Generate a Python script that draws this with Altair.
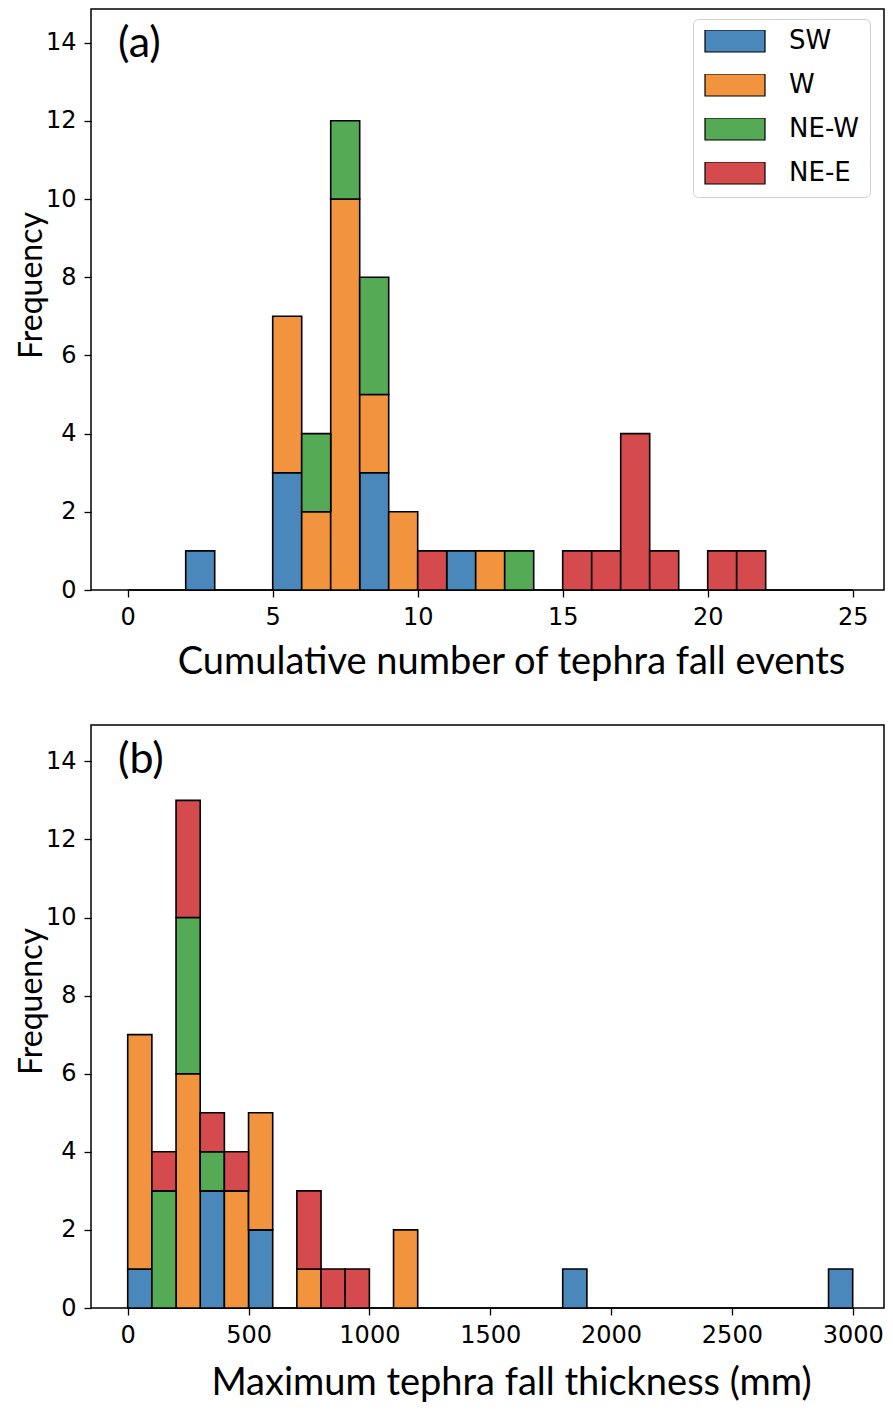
import altair as alt
import pandas as pd

CATS = ["SW", "W", "NE-W", "NE-E"]
COLORS = ["#4a88bb", "#f2933e", "#55aa55", "#d54b4d"]

# Panel (a): cumulative number of tephra fall events, bins of width 1
a_bin = [2, 5, 6, 7, 8, 9, 10, 11, 12, 13, 15, 16, 17, 18, 20, 21]
a_sw  = [1, 3, 0, 0, 3, 0, 0, 1, 0, 0, 0, 0, 0, 0, 0, 0]
a_w   = [0, 4, 2, 10, 2, 2, 0, 0, 1, 0, 0, 0, 0, 0, 0, 0]
a_new = [0, 0, 2, 2, 3, 0, 0, 0, 0, 1, 0, 0, 0, 0, 0, 0]
a_nee = [0, 0, 0, 0, 0, 0, 1, 0, 0, 0, 1, 1, 4, 1, 1, 1]
a_width = 1
a_range = [0, 25]
a_ticks = [0, 5, 10, 15, 20, 25]

# Panel (b): maximum tephra fall thickness (mm), bins of width 100
b_bin = [0, 100, 200, 300, 400, 500, 700, 800, 900, 1100, 1800, 2900]
b_sw  = [1, 0, 0, 3, 0, 2, 0, 0, 0, 0, 1, 1]
b_w   = [6, 0, 6, 0, 3, 3, 1, 0, 0, 2, 0, 0]
b_new = [0, 3, 4, 1, 0, 0, 0, 0, 0, 0, 0, 0]
b_nee = [0, 1, 3, 1, 1, 0, 2, 1, 1, 0, 0, 0]
b_width = 100
b_range = [0, 3000]
b_ticks = [0, 500, 1000, 1500, 2000, 2500, 3000]

y_ticks = [0, 2, 4, 6, 8, 10, 12, 14]


def long_df(bins, width, series):
    rows = []
    for i, (cat, vals) in enumerate(zip(CATS, series)):
        for b, v in zip(bins, vals):
            if v > 0:
                rows.append({"start": b, "end": b + width, "count": v,
                             "region": cat, "idx": i})
    return pd.DataFrame(rows)


df_a = long_df(a_bin, a_width, [a_sw, a_w, a_new, a_nee])
df_b = long_df(b_bin, b_width, [b_sw, b_w, b_new, b_nee])

PLOT_W = 793


def panel(df, rng, xdom, xticks, xtitle, label, height, ydom,
          ytitle_y, xtitle_y, legend):
    xs = alt.Scale(domain=xdom, nice=False, zero=False)
    ys = alt.Scale(domain=ydom, nice=False, zero=False)
    xax = alt.Axis(values=xticks, format="d", title=xtitle, titleX=420,
                   titleY=xtitle_y, titleBaseline="alphabetic",
                   titleFontSize=38)
    yax = alt.Axis(values=y_ticks, title="Frequency", titleX=-50,
                   titleY=ytitle_y, titleBaseline="alphabetic",
                   titleFontSize=32)
    base = alt.Chart(pd.DataFrame({"start": [rng[0]], "end": [rng[1]],
                                   "count": [0]})).mark_rule(
        color="black", strokeWidth=1.6).encode(
        x=alt.X("start:Q", scale=xs, axis=xax),
        x2="end:Q",
        y=alt.Y("count:Q", scale=ys, axis=yax))
    bars = alt.Chart(df).transform_stack(
        stack="count", groupby=["start"], as_=["y0", "y1"],
        sort=[alt.SortField("idx", order="ascending")]
    ).mark_bar(stroke="black", strokeWidth=1.6, opacity=1).encode(
        x=alt.X("start:Q", scale=xs, axis=xax),
        x2="end:Q",
        y=alt.Y("y0:Q", scale=ys, axis=yax),
        y2="y1:Q",
        color=alt.Color("region:N",
                        scale=alt.Scale(domain=CATS, range=COLORS),
                        legend=legend))
    txt = alt.Chart(pd.DataFrame({"t": [label]})).mark_text(
        font="Lato", fontSize=43, align="left", baseline="middle",
        color="black").encode(text="t:N", x=alt.value(27), y=alt.value(35))
    return alt.layer(base, bars, txt).properties(width=PLOT_W, height=height)


legend_a = alt.Legend(
    title=None, orient="none", legendX=602, legendY=10,
    symbolType="M-1,-0.3667L1,-0.3667L1,0.3667L-1,0.3667Z",
    symbolSize=3600, clipHeight=22, symbolStrokeColor="black",
    symbolStrokeWidth=1.2, symbolOpacity=1,
    labelFont="DejaVu Sans", labelFontSize=26, labelColor="black",
    labelOffset=23, padding=11, rowPadding=18,
    strokeColor="#d0d0d0", fillColor="white", cornerRadius=5)

pa = panel(df_a, a_range, [-1.266, 26.08], a_ticks,
           "Cumulative number of tephra fall events", "(a)", 581,
           [0, 14.86], 276, 83, legend_a)
pb = panel(df_b, b_range, [-151.9, 3129.5], b_ticks,
           "Maximum tephra fall thickness (mm)", "(b)", 583,
           [0, 14.93], 276, 86, None)

chart = alt.vconcat(pa, pb, spacing=135, bounds="flush").resolve_scale(
    color="independent").properties(
    padding={"left": 6, "top": 0, "right": 0, "bottom": 0}).configure_view(
    stroke="black", strokeWidth=1.5).configure_axis(
    domain=False, grid=False, ticks=True, tickColor="black", tickSize=7,
    tickWidth=1.3, labelFont="DejaVu Sans", labelFontSize=24,
    labelColor="black", labelPadding=8, titleFont="Lato",
    titleColor="black", titleFontWeight="normal")

chart.save("out.html", embed_options={"renderer": "svg", "actions": False})
